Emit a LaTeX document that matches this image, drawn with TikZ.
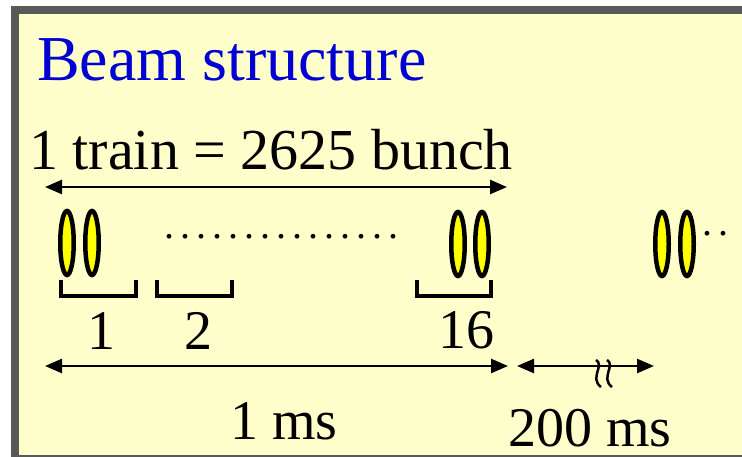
\documentclass[tikz,border=0pt]{standalone}
\usepackage{fontspec}
\setmainfont{Liberation Serif}
\usetikzlibrary{arrows.meta,shapes.geometric}
\definecolor{panelbg}{RGB}{255,255,204}
\definecolor{framegray}{RGB}{89,89,89}
\definecolor{titleblue}{RGB}{0,0,210}
\definecolor{bunchyellow}{RGB}{255,255,0}

\begin{document}
\begin{tikzpicture}[x=1pt,y=-1pt,
  bunch/.style={ellipse,draw=black,fill=bunchyellow,line width=4.5pt,inner sep=0pt,minimum width=13.5pt,minimum height=64pt},
  brack/.style={line width=4pt},
  dimarr/.style={{Triangle[length=17pt,width=14pt]}-{Triangle[length=17pt,width=14pt]},line width=2.5pt},
  dotrow/.style={anchor=base,inner sep=0pt,font=\fontsize{40}{44}\selectfont\addfontfeature{LetterSpace=15}},
  lbl/.style={anchor=base,inner sep=0pt,font=\fontsize{56}{60}\selectfont}]
  \useasboundingbox (0,0) rectangle (742,457);
  \fill[white] (0,0) rectangle (742,457);
  \fill[framegray] (11,6) rectangle (742,457);
  \fill[panelbg] (19,14) rectangle (742,455);
  % title and train length
  \node[anchor=base west,inner sep=0pt,text=titleblue,font=\fontsize{64}{68}\selectfont] (title) at (37,81) {Beam structure};
  \node[anchor=base west,inner sep=0pt,font=\fontsize{58}{62}\selectfont] (train) at (29,170) {1 train = 2625 bunch};
  \coordinate (trainL) at (45,187); \coordinate (trainR) at (507,187);
  \draw[dimarr] (trainL) -- (trainR);
  % bunches
  \node[bunch] (b1a) at (67,243) {}; \node[bunch] (b1b) at (92,243) {};
  \node[bunch] (b16a) at (458,244) {}; \node[bunch] (b16b) at (482,244) {};
  \node[bunch] (bna) at (662,244) {}; \node[bunch] (bnb) at (687,244) {};
  \node[dotrow] (dots) at (281,239) {...............};
  \node[dotrow] (more) at (715,236) {..};
  % trains
  \draw[brack] (61,280) -- (61,296) -- (136,296) -- (136,280);
  \draw[brack] (157,280) -- (157,296) -- (232,296) -- (232,280);
  \draw[brack] (417,280) -- (417,296) -- (491,296) -- (491,280);
  \node[lbl] (n1) at (101,349) {1};
  \node[lbl] (n2) at (198,349) {2};
  \node[lbl] (n16) at (466,348) {16};
  % time scale
  \coordinate (msL) at (45,366); \coordinate (msR) at (508,366);
  \draw[dimarr] (msL) -- (msR);
  \node[lbl] (ms) at (284,439) {1 ms};
  \coordinate (gapL) at (517,366); \coordinate (gapR) at (654,366);
  \draw[dimarr] (gapL) -- (gapR);
  \draw[line width=2.5pt] (596,360) .. controls (605,365) and (589,378) .. (601,387);
  \draw[line width=2.5pt] (607,360) .. controls (616,365) and (600,378) .. (612,387);
  \node[lbl] (gap) at (590,446) {200 ms};
\end{tikzpicture}
\end{document}
